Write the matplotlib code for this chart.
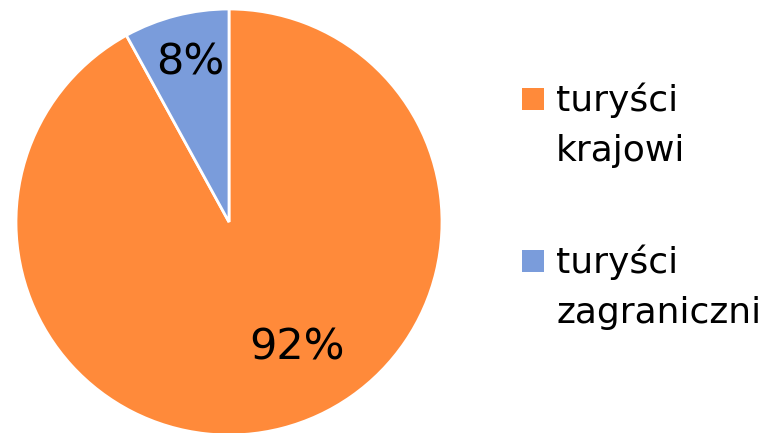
import matplotlib.pyplot as plt
from matplotlib.patches import Rectangle

labels = ["turyści\nkrajowi", "turyści\nzagraniczni"]
shares = [92, 8]
colors = ["#FF8A3A", "#7A9CDB"]

plt.rcParams['font.family'] = ['DejaVu Sans']

W, H = 778, 433
fig = plt.figure(figsize=(W / 100, H / 100), dpi=100)
# pie centred at about (229, 222) px, radius ~213 px
ax = fig.add_axes([16 / W, -2 / H, 426 / W, 426 / H])

wedges, texts = ax.pie(shares, colors=colors, startangle=90, counterclock=False,
                       radius=1.0, wedgeprops=dict(edgecolor="white", linewidth=2))
ax.set_xlim(-1, 1)
ax.set_ylim(-1, 1)
ax.set_aspect("equal")

# percentage labels
ax.text(0.32, -0.59, "%d%%" % shares[0], ha="center", va="center", fontsize=31, color="black")
ax.text(-0.18, 0.75, "%d%%" % shares[1], ha="center", va="center", fontsize=31, color="black")

# legend drawn by hand: square next to first line of each label
for i, (lab, col) in enumerate(zip(labels, colors)):
    top = 82 + i * 162
    fig.patches.append(Rectangle((522 / W, 1 - (top + 28) / H), 22 / W, 22 / H,
                                 transform=fig.transFigure, facecolor=col, edgecolor="none"))
    fig.text(556 / W, 1 - top / H, lab, ha="left", va="top", fontsize=26,
             linespacing=1.6, color="black")

fig.savefig("out.png", dpi=100)
